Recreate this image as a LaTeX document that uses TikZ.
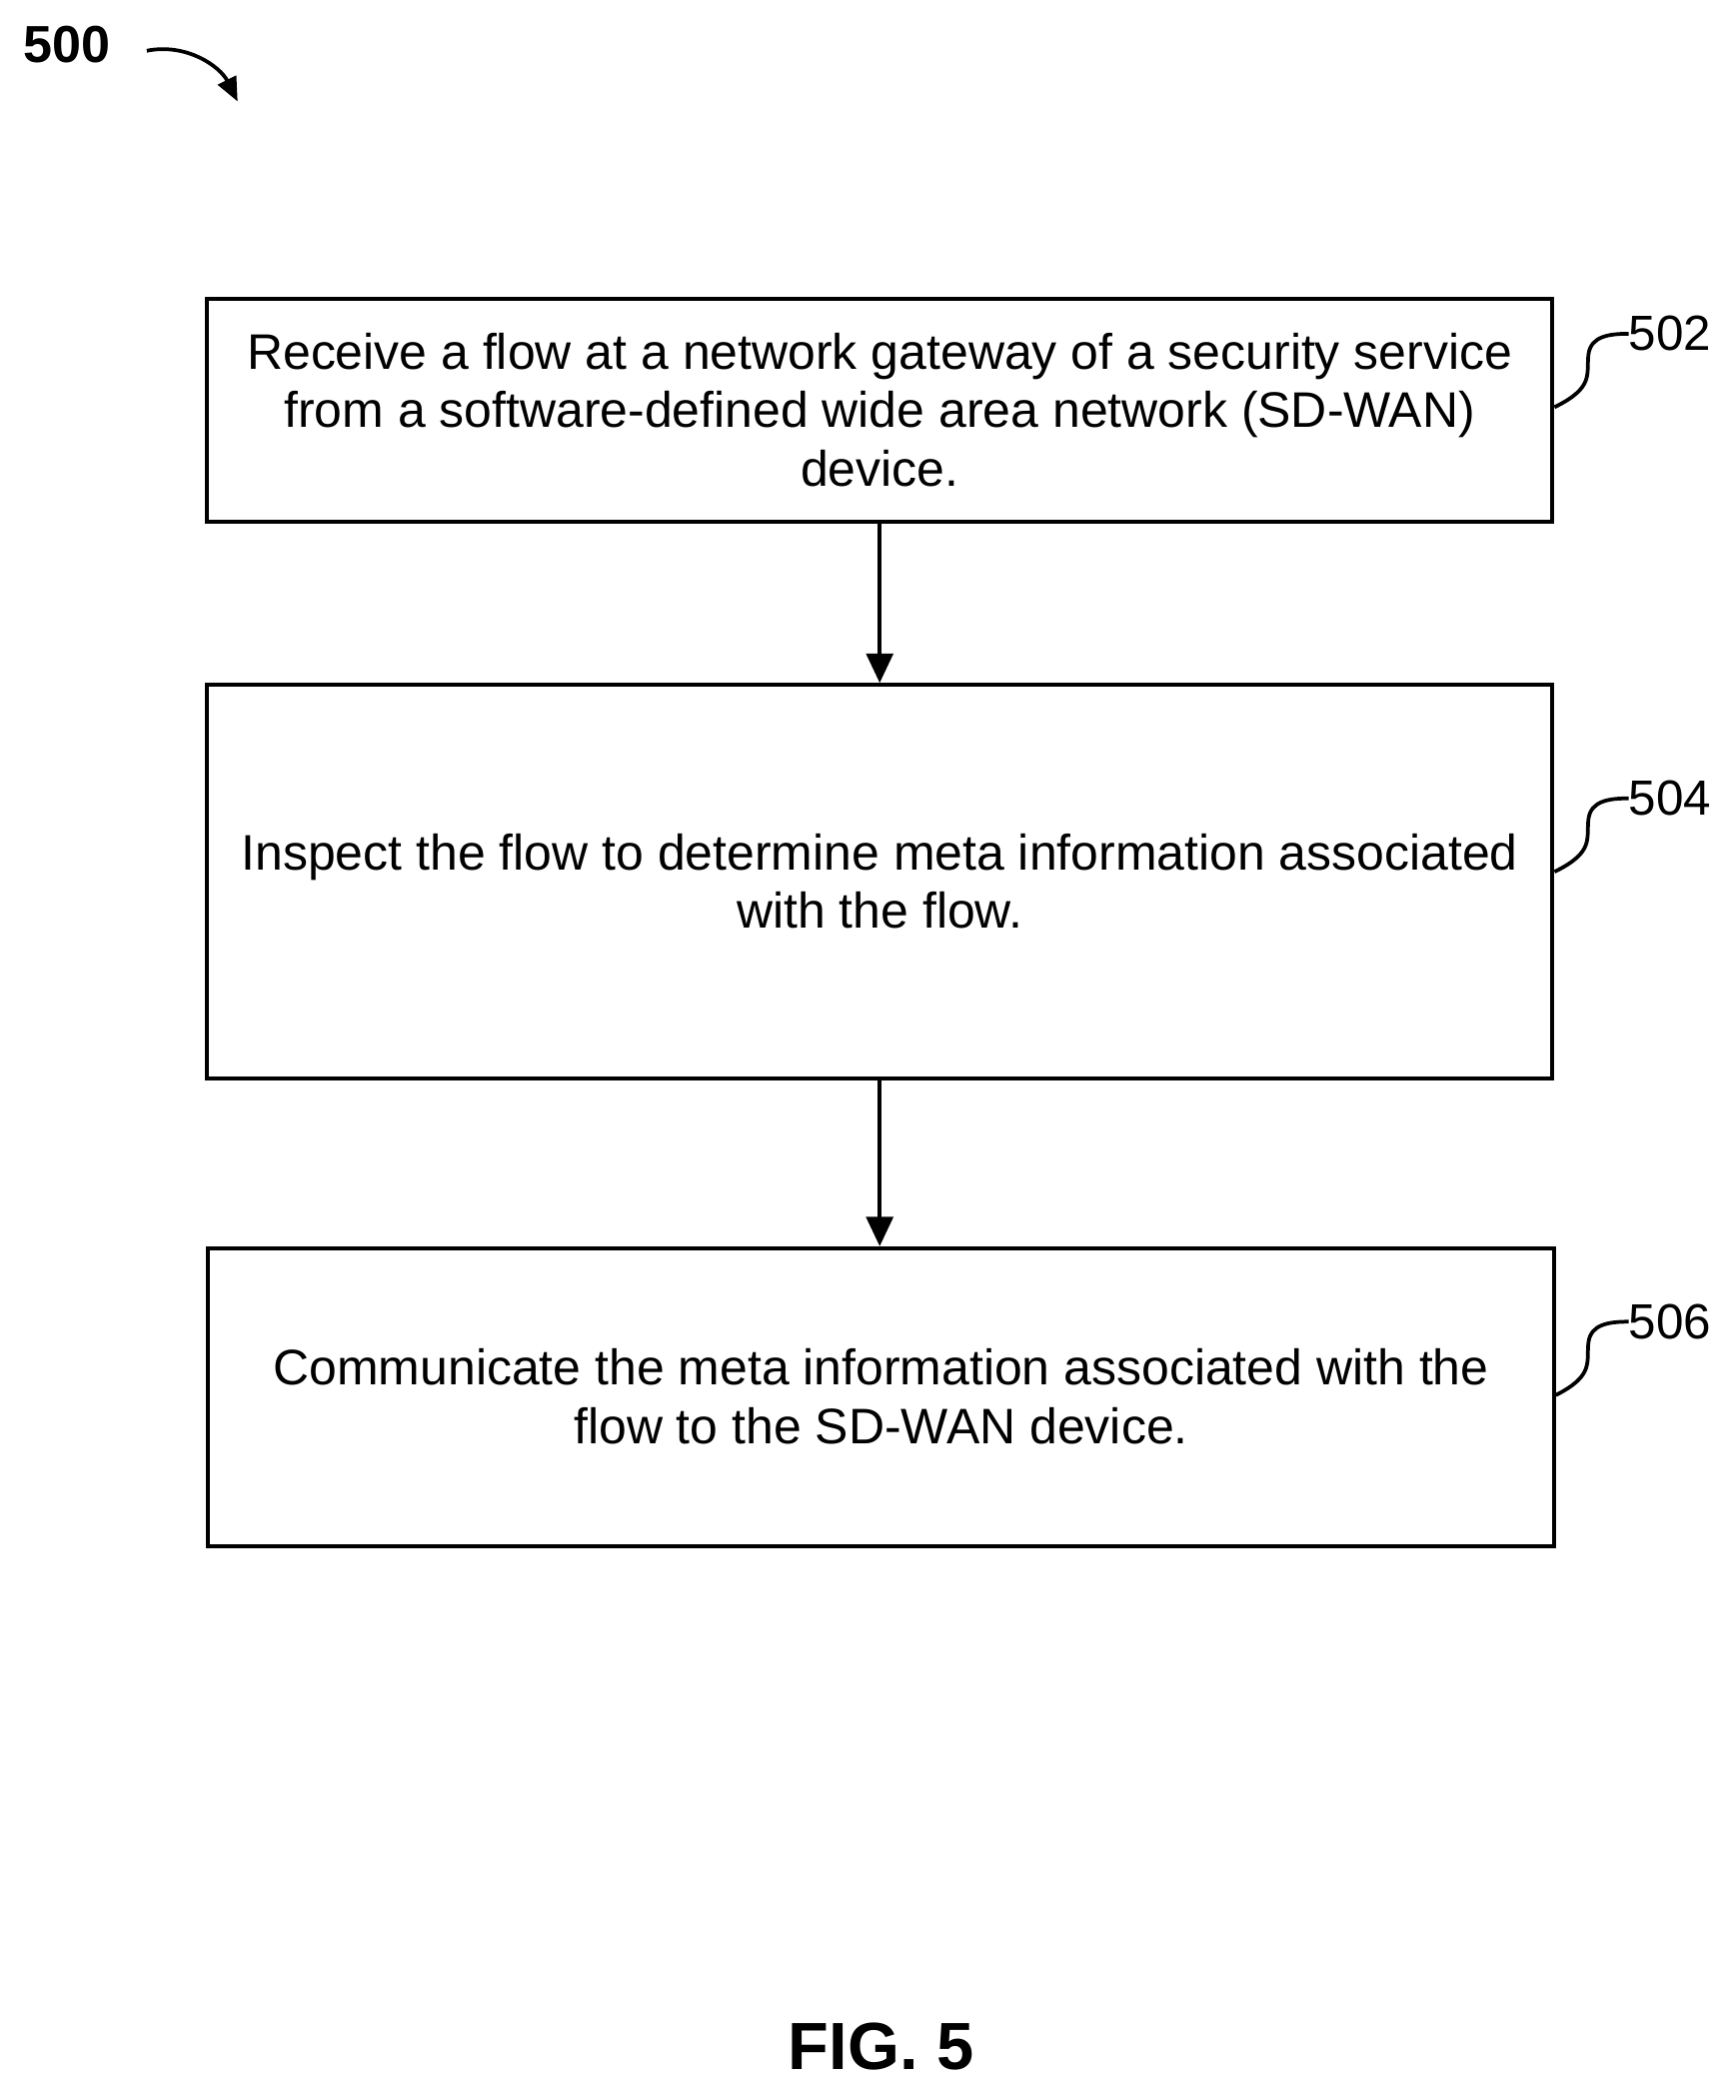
\documentclass[tikz,border=0pt]{standalone}
\usepackage{fontspec}
\setmainfont{Liberation Sans}
\usetikzlibrary{arrows.meta}
\begin{document}
\begin{tikzpicture}[x=1pt,y=-1pt,
 box/.style={draw,line width=3pt,inner sep=0pt},
 txt/.style={align=center,font=\fontsize{37.4}{44}\selectfont},
 arr/.style={line width=2.8pt,-{Triangle[length=22pt,width=20pt]}},
 lab/.style={font=\fontsize{37}{40}\selectfont,anchor=west,inner sep=0pt},
 sq/.style={line width=2.8pt}]
\useasboundingbox (0,0) rectangle (1300,1573);
\node[box,minimum width=1008pt,minimum height=167pt] (b1) at (659,307.5) {};
\node[txt] (t1) at (659,307) {Receive a flow at a network gateway of a security service\\from a software-defined wide area network (SD-WAN)\\device.};
\node[box,minimum width=1008pt,minimum height=295pt] (b2) at (659,660.5) {};
\node[txt] (t2) at (659,660) {Inspect the flow to determine meta information associated\\with the flow.};
\node[box,minimum width=1008pt,minimum height=223pt] (b3) at (660,1046.5) {};
\node[txt] (t3) at (660,1046) {Communicate the meta information associated with the\\flow to the SD-WAN device.};
\draw[arr] (b1.south) -- (b2.north);
\draw[arr] (b2.south -| 659,0) -- (b3.north -| 659,0);
\foreach \b/\n/\y in {b1/502/250,b2/504/598,b3/506/990}{
 \node[lab] (l\n) at (1220,\y) {\n};
 \coordinate (s\n) at (\b.east |- 0,\y+55);
 \draw[sq] (s\n) .. controls (1195,\y+40) and (1188,\y+30) .. (1190,\y+15) .. controls (1192,\y+2) and (1205,\y) .. (l\n.west);
}
\node[font=\fontsize{39}{40}\selectfont\bfseries] (n500) at (50,33) {500};
\coordinate (a500) at (178,76);
\draw[line width=2.8pt,-{Triangle[length=18pt,width=15pt]}] (110,38) .. controls (140,32) and (165,50) .. (a500);
\node[font=\fontsize{50}{52}\selectfont\bfseries] (fig) at (660,1533) {FIG. 5};
\end{tikzpicture}
\end{document}
